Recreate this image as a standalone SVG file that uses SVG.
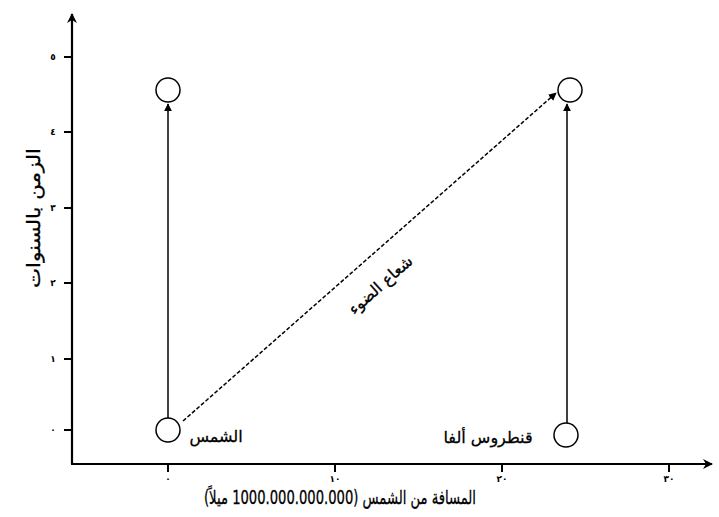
<svg xmlns="http://www.w3.org/2000/svg" width="719" height="517" viewBox="0 0 719 517">
<style>
.ax{stroke:#000;stroke-width:2.2;fill:none}
.tk{stroke:#000;stroke-width:2}
.ln{stroke:#000;stroke-width:1.5;fill:none}
.nd{fill:#fff;stroke:#000;stroke-width:1.5}
.num{font-family:"DejaVu Sans",sans-serif;font-size:9px;font-weight:bold;text-anchor:middle}
.lbl{font-family:"DejaVu Sans",sans-serif;font-size:16px;font-weight:normal;text-anchor:middle;stroke:#000;stroke-width:0.3}
.big{font-size:19px}
.ytl{font-size:18px}
</style>
<defs>
<marker id="ah" viewBox="0 0 10 10" refX="9" refY="5" markerWidth="8" markerHeight="8" markerUnits="userSpaceOnUse" orient="auto"><path d="M0,0 L10,5 L0,10 z" fill="#000"/></marker>
<marker id="ahx" viewBox="0 0 10 10" refX="9" refY="5" markerWidth="10" markerHeight="10" markerUnits="userSpaceOnUse" orient="auto"><path d="M0,0 L10,5 L0,10 L3,5 z" fill="#000"/></marker>
</defs>
<g id="axes">
<path class="ax" d="M72,464 L72,14" marker-end="url(#ahx)"/>
<path class="ax" d="M71,464 L712,464" marker-end="url(#ahx)"/>
<g class="tk">
<line x1="64" y1="57" x2="72" y2="57"/><line x1="64" y1="132" x2="72" y2="132"/><line x1="64" y1="208" x2="72" y2="208"/><line x1="64" y1="283" x2="72" y2="283"/><line x1="64" y1="359" x2="72" y2="359"/><line x1="64" y1="430" x2="72" y2="430"/>
<line x1="168" y1="464" x2="168" y2="472"/><line x1="335" y1="464" x2="335" y2="472"/><line x1="502" y1="464" x2="502" y2="472"/><line x1="669" y1="464" x2="669" y2="472"/>
</g>
<g class="num">
<text x="53" y="60">٥</text><text x="53" y="135">٤</text><text x="53" y="211">٣</text><text x="53" y="286">٢</text><text x="53" y="362">١</text><text x="53" y="433">٠</text>
<text x="168" y="482">٠</text><text x="335" y="482">١٠</text><text x="502" y="482">٢٠</text><text x="669" y="482">٣٠</text>
</g>
<text class="lbl big" x="340" y="504" textLength="272" lengthAdjust="spacingAndGlyphs">المسافة من الشمس (1000.000.000.000 ميلاً)</text>
<text class="lbl ytl" transform="translate(40,218) rotate(-90)" textLength="140" lengthAdjust="spacingAndGlyphs">الزمن بالسنوات</text>
</g>
<g id="connectors">
<path class="ln" d="M168,418 L168,104" marker-end="url(#ah)"/>
<path class="ln" d="M567,423 L567,104" marker-end="url(#ah)"/>
<path class="ln" d="M183,421 L556,93" stroke-dasharray="4,2" marker-end="url(#ah)"/>
<text class="lbl" transform="translate(384,289) rotate(-41.5)">شعاع الضوء</text>
</g>
<g id="sun-start"><circle class="nd" cx="168" cy="430" r="12"/><text class="lbl" x="216" y="442">الشمس</text></g>
<g id="sun-end"><circle class="nd" cx="168" cy="90" r="12"/></g>
<g id="alpha-start"><circle class="nd" cx="566" cy="435" r="12"/><text class="lbl" x="488" y="443">قنطروس ألفا</text></g>
<g id="alpha-end"><circle class="nd" cx="570" cy="90" r="12"/></g>
</svg>
